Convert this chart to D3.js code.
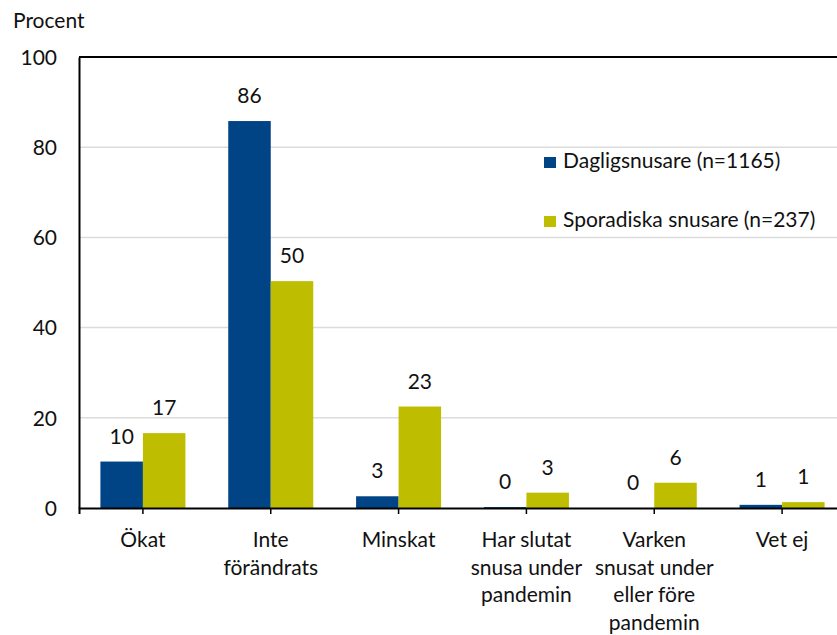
<!DOCTYPE html>
<html>
<head>
<meta charset="utf-8">
<script src="https://cdn.jsdelivr.net/npm/d3@7"></script>
<style>
  body { margin: 0; background: #fff; }
  svg text { font-family: "Gill Sans", "Lato", sans-serif; fill: #111; }
</style>
</head>
<body>
<div id="chart"></div>
<script>
// Categories (x axis labels, one line per array item)
const categories = [
    ["Ökat"],
    ["Inte", "förändrats"],
    ["Minskat"],
    ["Har slutat", "snusa under", "pandemin"],
    ["Varken", "snusat under", "eller före", "pandemin"],
    ["Vet ej"]
];
const seriesNames = ["Dagligsnusare (n=1165)", "Sporadiska snusare (n=237)"];
const dagligValues = [10.3, 85.8, 2.6, 0.2, 0, 0.7];
const sporadiskValues = [16.6, 50.3, 22.5, 3.4, 5.6, 1.3];
const yTicks = [0, 20, 40, 60, 80, 100];

const colors = ["#004485", "#bfbd00"];
const fontSize = "21px";

function drawChart() {
    const W = 837, H = 635;
    const margin = { top: 57, right: -9, bottom: 127, left: 79 };
    const width = W - margin.left - margin.right;
    const height = H - margin.top - margin.bottom;

    const svg = d3.select("#chart")
        .append("svg")
        .attr("width", W)
        .attr("height", H);

    const g = svg.append("g")
        .attr("transform", `translate(${margin.left},${margin.top})`);

    const idx = categories.map((d, i) => i);

    const x = d3.scaleBand()
        .domain(idx)
        .range([0, width])
        .paddingInner(0.335)
        .paddingOuter(0.1675);

    const xSub = d3.scaleBand()
        .domain([0, 1])
        .range([0, x.bandwidth()]);

    const y = d3.scaleLinear()
        .domain([0, 100])
        .range([height, 0]);

    // Gridlines
    g.append("g")
        .selectAll("line")
        .data(yTicks.filter(t => t > 0 && t < 100))
        .enter()
        .append("line")
        .attr("x1", 0)
        .attr("x2", width)
        .attr("y1", d => y(d))
        .attr("y2", d => y(d))
        .attr("stroke", "#dcdcdc")
        .attr("stroke-width", 1.5);

    // Top border
    g.append("line")
        .attr("x1", 0).attr("x2", width)
        .attr("y1", y(100)).attr("y2", y(100))
        .attr("stroke", "#000").attr("stroke-width", 2);

    // Y axis
    const yAxis = g.append("g")
        .call(d3.axisLeft(y).tickValues(yTicks).tickSize(0).tickPadding(22));
    yAxis.select(".domain").attr("stroke", "#000").attr("stroke-width", 2);
    yAxis.selectAll("text")
        .style("font-size", fontSize)
        .attr("dy", "0.35em");

    // Bars
    const data = [dagligValues, sporadiskValues];
    data.forEach((vals, s) => {
        g.append("g")
            .attr("fill", colors[s])
            .selectAll("rect")
            .data(vals)
            .enter()
            .append("rect")
            .attr("x", (d, i) => x(i) + xSub(s))
            .attr("y", d => y(d))
            .attr("width", xSub.bandwidth())
            .attr("height", d => y(0) - y(d));

        g.append("g")
            .selectAll("text")
            .data(vals)
            .enter()
            .append("text")
            .attr("x", (d, i) => x(i) + xSub(s) + xSub.bandwidth() / 2)
            .attr("y", d => y(d) - 18)
            .attr("text-anchor", "middle")
            .style("font-size", fontSize)
            .text(d => Math.round(d));
    });

    // X axis
    const xAxis = g.append("g")
        .attr("transform", `translate(0,${height})`)
        .call(d3.axisBottom(x).tickSize(6).tickFormat(""));
    xAxis.select(".domain").attr("stroke", "#000").attr("stroke-width", 2);
    xAxis.selectAll(".tick line").attr("stroke", "#000").attr("stroke-width", 1.5);

    const labels = g.append("g")
        .selectAll("text")
        .data(categories)
        .enter()
        .append("text")
        .attr("x", (d, i) => x(i) + x.bandwidth() / 2)
        .attr("y", height + 39)
        .attr("text-anchor", "middle")
        .style("font-size", fontSize);
    labels.selectAll("tspan")
        .data(d => d)
        .enter()
        .append("tspan")
        .attr("x", function () { return d3.select(this.parentNode).attr("x"); })
        .attr("dy", (d, i) => i === 0 ? 0 : 27.5)
        .text(d => d);

    // Y title
    svg.append("text")
        .attr("x", 13)
        .attr("y", 28)
        .style("font-size", fontSize)
        .text("Procent");

    // Legend
    const legend = svg.append("g")
        .attr("transform", "translate(544,157)");
    seriesNames.forEach((name, i) => {
        legend.append("rect")
            .attr("x", 0)
            .attr("y", i * 59)
            .attr("width", 12)
            .attr("height", 11)
            .attr("fill", colors[i]);
        legend.append("text")
            .attr("x", 19)
            .attr("y", i * 59 + 11)
            .style("font-size", fontSize)
            .text(name);
    });
}

drawChart();
</script>
</body>
</html>
